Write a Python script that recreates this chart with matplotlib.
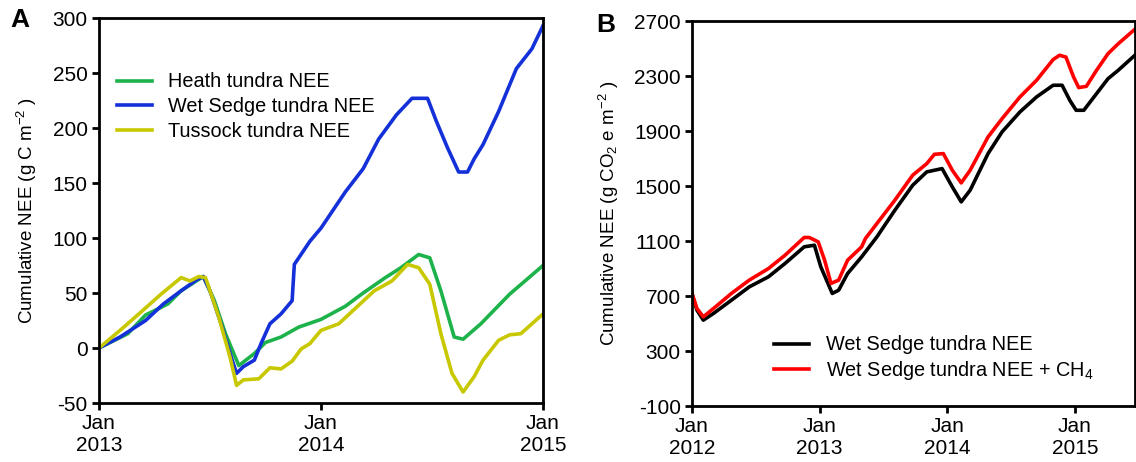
import matplotlib.pyplot as plt
import numpy as np

plt.rcParams.update({
    "font.family": ["Liberation Sans", "DejaVu Sans"],
    "mathtext.fontset": "custom",
    "mathtext.rm": "Liberation Sans",
    "mathtext.it": "Liberation Sans:italic",
    "axes.unicode_minus": False,
    "font.size": 13,
    "axes.linewidth": 2.0,
    "xtick.major.width": 2.0,
    "ytick.major.width": 2.0,
    "xtick.major.size": 5,
    "ytick.major.size": 5,
    "xtick.labelsize": 15,
    "ytick.labelsize": 15,
})

# Panel A: cumulative NEE (g C m-2), time in decimal years
heath_t = [2013.0, 2013.13, 2013.21, 2013.31, 2013.37, 2013.47, 2013.52, 2013.57, 2013.63,
           2013.70, 2013.75, 2013.82, 2013.90, 2014.0, 2014.11, 2014.19, 2014.29, 2014.36,
           2014.44, 2014.49, 2014.54, 2014.60, 2014.64, 2014.72, 2014.85, 2015.0]
heath_v = [0, 13, 30, 40, 52, 65, 43, 13, -16, -5, 5, 10, 19, 26, 38, 50, 64, 73,
           85, 82, 52, 10, 8, 22, 49, 75]

sedge_t = [2013.0, 2013.095, 2013.21, 2013.29, 2013.37, 2013.44, 2013.47, 2013.50, 2013.55,
           2013.60, 2013.62, 2013.65, 2013.70, 2013.73, 2013.77, 2013.82, 2013.87, 2013.88,
           2013.91, 2013.95, 2014.0, 2014.11, 2014.19, 2014.26, 2014.34, 2014.41, 2014.48,
           2014.52, 2014.57, 2014.62, 2014.66, 2014.69, 2014.73, 2014.80, 2014.88, 2014.95, 2015.0]
sedge_v = [0, 10, 25, 40, 52, 62, 65, 52, 22, -11, -23, -17, -11, 4, 22, 31, 43, 76,
           85, 97, 109, 142, 163, 190, 212, 227, 227, 206, 182, 160, 160, 172, 185, 215,
           254, 272, 293]

tussock_t = [2013.0, 2013.095, 2013.18, 2013.28, 2013.37, 2013.41, 2013.45, 2013.48, 2013.54,
             2013.59, 2013.62, 2013.65, 2013.72, 2013.77, 2013.82, 2013.87, 2013.91, 2013.95,
             2014.0, 2014.08, 2014.16, 2014.24, 2014.32, 2014.39, 2014.44, 2014.49, 2014.54,
             2014.59, 2014.64, 2014.69, 2014.73, 2014.80, 2014.85, 2014.90, 2015.0]
tussock_v = [0, 16, 31, 49, 64, 61, 65, 64, 28, -8, -34, -29, -28, -18, -19, -12, -1, 4,
             16, 22, 37, 52, 61, 76, 73, 58, 13, -23, -40, -26, -11, 7, 12, 13, 31]

# Panel B: cumulative NEE (g CO2 e m-2)
b_black_t = [2012.0, 2012.04, 2012.09, 2012.17, 2012.31, 2012.45, 2012.60, 2012.73, 2012.88,
             2012.96, 2013.01, 2013.10, 2013.15, 2013.22, 2013.33, 2013.45, 2013.59, 2013.73,
             2013.84, 2013.96, 2014.04, 2014.11, 2014.18, 2014.32, 2014.43, 2014.57, 2014.70,
             2014.83, 2014.90, 2014.96, 2015.01, 2015.07, 2015.15, 2015.26, 2015.34, 2015.47]
b_black_v = [719, 598, 525, 574, 670, 767, 840, 937, 1058, 1070, 913, 719, 743, 864, 985,
             1131, 1324, 1506, 1603, 1627, 1494, 1385, 1470, 1736, 1894, 2039, 2148, 2233,
             2233, 2124, 2051, 2051, 2148, 2281, 2342, 2451]

b_red_t = [2012.0, 2012.04, 2012.09, 2012.17, 2012.31, 2012.45, 2012.60, 2012.73, 2012.88,
           2012.92, 2012.99, 2013.04, 2013.09, 2013.15, 2013.22, 2013.33, 2013.36, 2013.45,
           2013.59, 2013.73, 2013.84, 2013.90, 2013.97, 2014.04, 2014.11, 2014.18, 2014.32,
           2014.43, 2014.57, 2014.70, 2014.83, 2014.88, 2014.93, 2014.99, 2015.03, 2015.09,
           2015.17, 2015.26, 2015.34, 2015.47]
b_red_v = [724, 610, 549, 610, 719, 816, 900, 997, 1126, 1126, 1094, 961, 792, 816, 961,
           1058, 1119, 1228, 1397, 1579, 1663, 1731, 1736, 1615, 1523, 1615, 1857, 1990,
           2148, 2269, 2420, 2451, 2438, 2293, 2216, 2225, 2342, 2463, 2535, 2640]

GREEN = "#1db34a"
BLUE = "#1430d8"
YELLOW = "#c8c800"

fig = plt.figure(figsize=(11.36, 4.62), dpi=100)
axA = fig.add_axes([0.0871, 0.1277, 0.478 - 0.0871, 0.961 - 0.1277])
axB = fig.add_axes([0.609, 0.121, 0.999 - 0.609, 0.9545 - 0.121])

lw = 2.6
axA.plot(heath_t, heath_v, color=GREEN, lw=lw, label="Heath tundra NEE")
axA.plot(sedge_t, sedge_v, color=BLUE, lw=lw, label="Wet Sedge tundra NEE")
axA.plot(tussock_t, tussock_v, color=YELLOW, lw=lw, label="Tussock tundra NEE")
axA.set_xlim(2013, 2015)
axA.set_ylim(-50, 300)
axA.set_yticks(np.arange(-50, 301, 50))
axA.set_xticks([2013, 2014, 2015])
axA.set_xticklabels(["Jan\n2013", "Jan\n2014", "Jan\n2015"])
axA.set_ylabel("Cumulative NEE (g C m$^{-2}$ )", fontsize=13.5, labelpad=10)
axA.legend(loc="upper left", bbox_to_anchor=(0.0, 0.905), frameon=False, fontsize=14.3,
           handlelength=1.75, handletextpad=0.85, labelspacing=0.28)
axA.text(-0.2, 0.995, "A", transform=axA.transAxes, fontsize=19, fontweight="bold",
         va="center", ha="left")

axB.plot(b_black_t, b_black_v, color="black", lw=lw, label="Wet Sedge tundra NEE")
axB.plot(b_red_t, b_red_v, color="#ff0000", lw=lw, label="Wet Sedge tundra NEE + CH$_4$")
axB.set_xlim(2012, 2015.47)
axB.set_ylim(-100, 2700)
axB.set_yticks(np.arange(-100, 2701, 400))
axB.set_xticks([2012, 2013, 2014, 2015])
axB.set_xticklabels(["Jan\n2012", "Jan\n2013", "Jan\n2014", "Jan\n2015"])
axB.set_ylabel("Cumulative NEE (g CO$_2$ e m$^{-2}$ )", fontsize=13.5, labelpad=9)
axB.legend(loc="lower left", bbox_to_anchor=(0.145, 0.015), frameon=False, fontsize=14.3,
           handlelength=1.75, handletextpad=0.85, labelspacing=0.25)
axB.text(-0.215, 0.99, "B", transform=axB.transAxes, fontsize=19, fontweight="bold",
         va="center", ha="left")

for ax in (axA, axB):
    ax.tick_params(direction="out", pad=3)

fig.savefig("out.png", dpi=100)
